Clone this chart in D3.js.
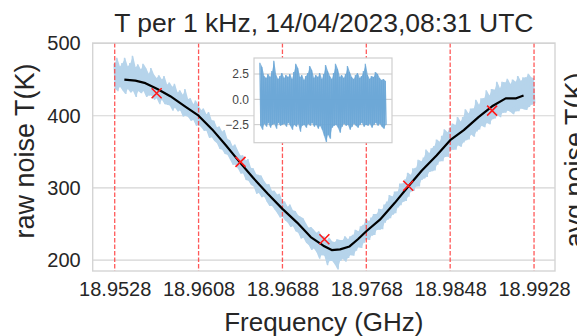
<!DOCTYPE html>
<html>
<head>
<meta charset="utf-8">
<script src="https://cdn.jsdelivr.net/npm/d3@7"></script>
<style>
  body { margin: 0; background: #fff; }
  svg { display: block; font-family: "Liberation Sans", Arial, sans-serif; }
</style>
</head>
<body>
<svg id="chart" width="577" height="336"></svg>
<script>
// Raw noise temperature envelope (K), sampled every 0.25 MHz from 18.9528 GHz
const rawStartGHz = 18.9528;
const rawStepGHz = 0.00025;
const rawHigh = [472,480,468,473,480,468,473,483,467,471,464,472,466,458,466,457,452,456,450,455,
  443,446,440,444,432,435,429,437,423,424,416,421,414,408,410,402,405,394,393,384,
  385,378,380,368,366,358,360,352,345,345,338,340,328,327,319,318,317,310,305,305,
  296,296,291,292,282,281,274,277,269,268,262,260,258,251,245,246,242,238,240,234,
  233,228,231,226,225,229,228,228,233,229,233,235,242,240,247,249,257,254,259,264,
  264,271,270,277,281,290,288,295,295,306,306,312,321,318,327,328,339,337,342,353,
  348,355,358,367,364,372,381,377,383,389,387,398,392,398,409,403,410,410,422,415,
  424,424,435,428,437,436,447,438,447,446,451,444,450,447,455,448,453,453,458,453,452];
const rawLow = [438,434,440,435,430,437,432,434,426,434,431,434,426,428,428,422,424,416,422,416,
  415,414,407,411,406,407,399,400,398,393,394,386,387,384,379,379,369,370,365,362,
  354,353,347,346,339,332,332,327,320,320,311,310,304,302,292,293,287,288,281,275,
  275,270,265,259,260,255,252,246,247,240,238,230,231,224,221,214,216,211,202,207,
  206,193,199,199,194,187,199,202,198,203,207,206,213,218,217,224,229,228,234,235,
  242,242,243,252,256,258,263,265,273,276,281,282,288,295,296,302,302,311,313,315,
  322,323,324,332,337,337,343,343,352,353,353,359,357,363,366,367,374,371,378,381,
  386,384,390,388,395,396,401,398,404,404,407,405,402,406,406,410,409,408,412,415,417];

// Running-average curve (GHz, K)
const smoothF = [18.95372,18.95477,18.95573,18.95687,18.9581,18.9595,18.9608,18.9621,18.9634,18.9647,
  18.9660,18.9674,18.9688,18.9702,18.9715,18.9727,18.9735,18.9743,18.9752,18.9760,
  18.9768,18.9781,18.9795,18.9808,18.9821,18.9835,18.9848,18.9861,18.9875,18.9888,
  18.9901,18.9911,18.9918];
const smoothT = [450,448.5,445,437,427,413,400,381,359,336,
  314,292,271,252,232,220,214,215,219,229,
  240,256,279,302,324,345,366,380,398,413,
  424,424,428];

// Sampled points (GHz, K)
const markF = [18.9568,18.9648,18.9728,18.9808,18.9888];
const markT = [431,336,229,303,407];

// Band edges (GHz) and axis ticks
const edgeF = [18.9528,18.9608,18.9688,18.9768,18.9848,18.9928];
const yTicks = [200,300,400,500];

// Residual noise envelope for the inset (K)
const resHigh = [3.6,3.2,2.3,2.1,2.5,2.2,2.8,3.8,2.4,2.0,2.3,2.6,2.1,2.4,2.2,2.5,2.0,2.7,3.5,3.1,
  2.2,2.4,1.9,2.3,2.6,3.3,2.9,2.1,2.4,2.2,2.6,2.0,2.5,3.4,2.8,2.3,2.0,2.6,3.5,3.0,
  2.2,2.4,2.1,2.5,3.3,2.7,2.2,2.0,2.4,2.6,2.1,2.3,2.8,3.5,2.4,2.0,2.3,2.2,2.7,2.5,
  2.1,1.9,2.0,1.8];
const resLow = [-2.6,-3.0,-2.4,-2.7,-2.3,-2.8,-2.5,-2.4,-2.9,-2.3,-2.6,-2.5,-2.4,-2.7,-2.3,-2.6,-3.0,-2.5,-2.7,-2.4,
  -3.2,-2.6,-2.5,-2.8,-2.4,-2.6,-2.3,-2.7,-2.5,-2.9,-2.6,-3.0,-3.6,-4.2,-3.5,-3.9,-2.8,-2.6,-2.5,-2.8,
  -3.3,-2.7,-2.4,-2.6,-2.5,-3.0,-2.7,-2.4,-2.6,-2.8,-2.5,-2.3,-2.7,-2.5,-2.6,-2.4,-2.8,-2.5,-2.3,-2.6,
  -2.4,-2.7,-2.9,-2.5];
const resTicks = [-2.5,0,2.5];

const svg = d3.select("#chart");
const textColor = "#262626";
const gridColor = "#d4d4d4";
const bandColor = "#b6d4eb";

// Main axes box
const box = {left: 92.7, right: 555, top: 43, bottom: 271};
const x = d3.scaleLinear().domain([18.9507, 18.9948]).range([box.left, box.right]);
const y = d3.scaleLinear().domain([185, 500.6]).range([box.bottom, box.top]);

svg.append("defs").append("clipPath").attr("id", "mainClip")
  .append("rect").attr("x", box.left).attr("y", box.top)
  .attr("width", box.right - box.left).attr("height", box.bottom - box.top);

// Grid
const grid = svg.append("g");
grid.selectAll("line.h").data(yTicks).join("line")
  .attr("x1", box.left).attr("x2", box.right)
  .attr("y1", d => y(d)).attr("y2", d => y(d))
  .attr("stroke", gridColor).attr("stroke-width", 1.1);

const plot = svg.append("g").attr("clip-path", "url(#mainClip)");

// Raw band: filled envelope plus a dense up/down trace for the spiky texture
const rawData = rawHigh.map((hi, i) => ({f: rawStartGHz + i * rawStepGHz, hi, lo: rawLow[i]}));
plot.append("path").datum(rawData)
  .attr("d", d3.area().x(d => x(d.f)).y0(d => y(d.lo)).y1(d => y(d.hi)))
  .attr("fill", bandColor);
const trace = rawData.flatMap(d => [[d.f - rawStepGHz * 0.25, d.hi], [d.f + rawStepGHz * 0.25, d.lo]]);
plot.append("path").datum(trace)
  .attr("d", d3.line().x(d => x(d[0])).y(d => y(d[1])))
  .attr("fill", "none").attr("stroke", bandColor).attr("stroke-width", 1.4);

// Band edges
plot.selectAll("line.edge").data(edgeF).join("line")
  .attr("x1", d => x(d)).attr("x2", d => x(d))
  .attr("y1", box.top).attr("y2", box.bottom)
  .attr("stroke", "#ff3b3b").attr("stroke-opacity", 0.85)
  .attr("stroke-width", 1.3).attr("stroke-dasharray", "4.5,2");

// Smoothed curve
plot.append("path").datum(smoothF.map((f, i) => [f, smoothT[i]]))
  .attr("d", d3.line().x(d => x(d[0])).y(d => y(d[1])))
  .attr("fill", "none").attr("stroke", "#000").attr("stroke-width", 2.2)
  .attr("stroke-linejoin", "round");

// Markers
const mk = plot.selectAll("g.mk").data(markF.map((f, i) => [f, markT[i]])).join("g")
  .attr("transform", d => `translate(${x(d[0])},${y(d[1])})`);
const s = 5;
mk.append("path").attr("d", `M${-s},${-s}L${s},${s}M${-s},${s}L${s},${-s}`)
  .attr("stroke", "#ff1a1a").attr("stroke-width", 1.6).attr("fill", "none");

// Frame
svg.append("rect").attr("x", box.left).attr("y", box.top)
  .attr("width", box.right - box.left).attr("height", box.bottom - box.top)
  .attr("fill", "none").attr("stroke", gridColor).attr("stroke-width", 1.4);

// Axes
const xAxis = svg.append("g").attr("transform", `translate(0,${box.bottom})`)
  .call(d3.axisBottom(x).tickValues(edgeF).tickFormat(d3.format(".4f")).tickSize(0).tickPadding(11));
const yAxis = svg.append("g").attr("transform", `translate(${box.left},0)`)
  .call(d3.axisLeft(y).tickValues(yTicks).tickFormat(d3.format("d")).tickSize(0).tickPadding(12));
[xAxis, yAxis].forEach(a => {
  a.select(".domain").remove();
  a.selectAll("text").attr("font-size", 20).attr("fill", textColor)
    .attr("font-family", "'Liberation Sans', Arial, sans-serif");
});

// Labels
svg.append("text").attr("x", (box.left + box.right) / 2).attr("y", 32)
  .attr("text-anchor", "middle").attr("font-size", 26.5).attr("fill", textColor)
  .text("T per 1 kHz, 14/04/2023,08:31 UTC");
svg.append("text").attr("x", (box.left + box.right) / 2).attr("y", 331)
  .attr("text-anchor", "middle").attr("font-size", 26).attr("fill", textColor)
  .text("Frequency (GHz)");
svg.append("text").attr("transform", `translate(34,151) rotate(-90)`)
  .attr("text-anchor", "middle").attr("font-size", 27).attr("fill", textColor)
  .text("raw noise T(K)");
svg.append("text").attr("transform", `translate(584,160) rotate(-90)`)
  .attr("text-anchor", "middle").attr("font-size", 27).attr("fill", textColor)
  .text("avg noise T(K)");

// Inset: residual noise
const ib = {left: 254, right: 392, top: 58, bottom: 142.7};
const n = resHigh.length;
const ix = d3.scaleLinear().domain([-0.05 * (n - 1), 1.05 * (n - 1)]).range([ib.left, ib.right]);
const iy = d3.scaleLinear().domain([-4.28, 4.08]).range([ib.bottom, ib.top]);
const inset = svg.append("g");
inset.append("rect").attr("x", ib.left).attr("y", ib.top)
  .attr("width", ib.right - ib.left).attr("height", ib.bottom - ib.top).attr("fill", "#fff");
inset.selectAll("line.g").data(resTicks).join("line")
  .attr("x1", ib.left).attr("x2", ib.right)
  .attr("y1", d => iy(d)).attr("y2", d => iy(d))
  .attr("stroke", "#c8c8c8").attr("stroke-width", 1);
const resData = resHigh.map((hi, i) => [i, hi, resLow[i]]);
inset.append("path").datum(resData)
  .attr("d", d3.area().x(d => ix(d[0])).y0(d => iy(d[2])).y1(d => iy(d[1])))
  .attr("fill", "#6aa6d6").attr("fill-opacity", 0.85);
inset.append("path").datum(resData.flatMap(d => [[d[0] - 0.25, d[1]], [d[0] + 0.25, d[2]]]))
  .attr("d", d3.line().x(d => ix(d[0])).y(d => iy(d[1])))
  .attr("fill", "none").attr("stroke", "#6aa6d6").attr("stroke-opacity", 0.85).attr("stroke-width", 1.2);
inset.append("rect").attr("x", ib.left).attr("y", ib.top)
  .attr("width", ib.right - ib.left).attr("height", ib.bottom - ib.top)
  .attr("fill", "none").attr("stroke", "#cfcfcf").attr("stroke-width", 1.2);
const iAxis = inset.append("g").attr("transform", `translate(${ib.left},0)`)
  .call(d3.axisLeft(iy).tickValues(resTicks).tickFormat(d3.format(".1f")).tickSize(0).tickPadding(5));
iAxis.select(".domain").remove();
iAxis.selectAll("text").attr("font-size", 12).attr("fill", "#444")
  .attr("font-family", "'Liberation Sans', Arial, sans-serif");
</script>
</body>
</html>
